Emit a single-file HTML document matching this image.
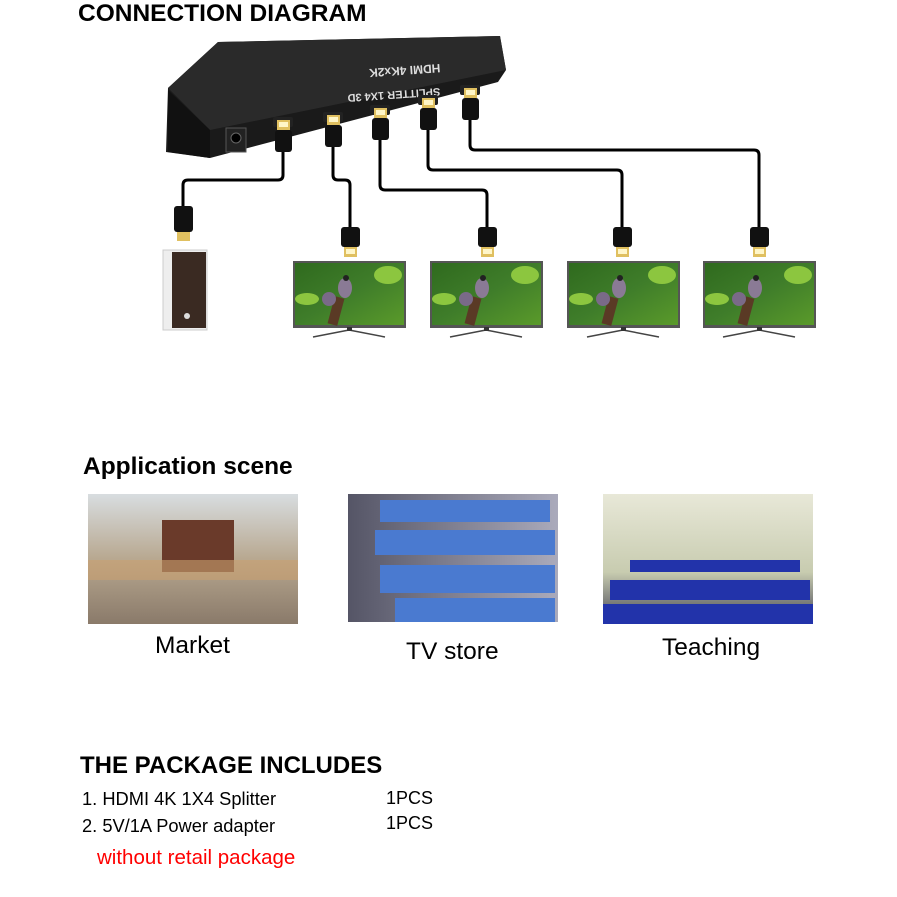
<!DOCTYPE html>
<html><head><meta charset="utf-8"><style>
body{margin:0;background:#fff;width:897px;height:897px;overflow:hidden;position:relative;font-family:"Liberation Sans",Arial,sans-serif}
.t{position:absolute;white-space:nowrap;color:#000}
</style></head><body>
<svg width="897" height="897" style="position:absolute;left:0;top:0">
<defs>
<linearGradient id="scr" x1="0" y1="0" x2="1" y2="1">
<stop offset="0" stop-color="#2f6a1e"/><stop offset="0.5" stop-color="#3f7d2a"/><stop offset="1" stop-color="#5a9a2a"/></linearGradient>
<g id="tv">
<rect x="0" y="0" width="113" height="67" fill="#555"/>
<rect x="2" y="2" width="109" height="62" fill="url(#scr)"/>
<ellipse cx="95" cy="14" rx="14" ry="9" fill="#8cc63f"/>
<ellipse cx="14" cy="38" rx="12" ry="6" fill="#8cc63f"/>
<rect x="38" y="36" width="10" height="28" fill="#5a3a25" transform="rotate(15 43 50)"/>
<ellipse cx="52" cy="27" rx="7" ry="10" fill="#8a7a95"/>
<ellipse cx="36" cy="38" rx="7" ry="7" fill="#7a6a88"/>
<circle cx="53" cy="17" r="3" fill="#222"/>
<line x1="20" y1="76" x2="56" y2="69" stroke="#444" stroke-width="1.5"/>
<line x1="92" y1="76" x2="56" y2="69" stroke="#444" stroke-width="1.5"/>
<rect x="54" y="66" width="5" height="4" fill="#333"/>
</g>
<g id="plug">
<rect x="-9" y="0" width="19" height="20" rx="3" fill="#111"/>
<rect x="-6" y="20" width="13" height="10" fill="#e0c060"/>
<rect x="-4" y="22" width="9" height="5" fill="#fff6c8"/>
</g>
<g id="uplug">
<rect x="-10" y="-3" width="20" height="10" rx="2" fill="#222"/>
<rect x="-6" y="0" width="13" height="10" fill="#e0c060"/>
<rect x="-4" y="2" width="9" height="5" fill="#fff6c8"/>
<rect x="-8" y="10" width="17" height="22" rx="3" fill="#111"/>
</g>
</defs>
<!-- splitter -->
<polygon points="168,88 218,42 500,36 506,70 498,82 210,158 166,152" fill="#1a1a1a"/>
<polygon points="168,88 218,42 500,36 506,70 210,130" fill="#2a2a2a"/>
<polygon points="168,90 210,130 210,158 168,152" fill="#111"/>
<rect x="226" y="128" width="20" height="24" fill="#222" stroke="#555"/>
<circle cx="236" cy="138" r="5" fill="#000" stroke="#666"/>
<text x="0" y="0" font-size="11" font-weight="bold" fill="#ddd" transform="translate(440,88) rotate(176)" font-family="Liberation Sans">SPLITTER 1X4 3D</text>
<text x="0" y="0" font-size="12" font-weight="bold" fill="#ddd" transform="translate(440,64) rotate(176)" font-family="Liberation Sans">HDMI 4Kx2K</text>
<!-- cables -->
<g fill="none" stroke="#000" stroke-width="3" stroke-linejoin="round">
<path d="M283 150 V175 Q283 180 278 180 H188 Q183 180 183 185 V210"/>
<path d="M333 145 V175 Q333 180 338 180 H345 Q350 180 350 185 V228"/>
<path d="M380 138 V185 Q380 190 385 190 H482 Q487 190 487 195 V228"/>
<path d="M428 128 V165 Q428 170 433 170 H617 Q622 170 622 175 V228"/>
<path d="M470 118 V145 Q470 150 475 150 H754 Q759 150 759 155 V228"/>
</g>
<use href="#uplug" x="283" y="120"/>
<use href="#uplug" x="333" y="115"/>
<use href="#uplug" x="380" y="108"/>
<use href="#uplug" x="428" y="98"/>
<use href="#uplug" x="470" y="88"/>
<rect x="174" y="206" width="19" height="26" rx="3" fill="#111"/>
<rect x="177" y="232" width="13" height="9" fill="#e0c060"/>
<use href="#plug" x="350" y="227"/>
<use href="#plug" x="487" y="227"/>
<use href="#plug" x="622" y="227"/>
<use href="#plug" x="759" y="227"/>
<!-- computer -->
<rect x="163" y="250" width="44" height="80" fill="#eee" stroke="#ccc"/>
<rect x="172" y="252" width="34" height="76" fill="#3a2a22"/>
<circle cx="187" cy="316" r="3" fill="#ddd"/>
<use href="#tv" x="293" y="261"/>
<use href="#tv" x="430" y="261"/>
<use href="#tv" x="567" y="261"/>
<use href="#tv" x="703" y="261"/>
<!-- photos -->
<defs>
<linearGradient id="m" x1="0" y1="0" x2="0" y2="1"><stop offset="0" stop-color="#d8dde0"/><stop offset="0.5" stop-color="#b8a890"/><stop offset="1" stop-color="#8a7a6a"/></linearGradient>
<linearGradient id="s" x1="0" y1="0" x2="1" y2="0"><stop offset="0" stop-color="#556"/><stop offset="1" stop-color="#aab"/></linearGradient>
<linearGradient id="c" x1="0" y1="0" x2="0" y2="1"><stop offset="0" stop-color="#e8e8d8"/><stop offset="0.6" stop-color="#c8ccb0"/><stop offset="1" stop-color="#445"/></linearGradient>
</defs>
<rect x="88" y="494" width="210" height="130" fill="url(#m)"/>
<rect x="162" y="520" width="72" height="52" fill="#6a3a2a"/>
<rect x="88" y="560" width="210" height="20" fill="#c9a070" opacity="0.6"/>
<rect x="348" y="494" width="210" height="128" fill="url(#s)"/>
<g fill="#4a7ad0">
<rect x="380" y="500" width="170" height="22"/><rect x="375" y="530" width="180" height="25"/><rect x="380" y="565" width="175" height="28"/><rect x="395" y="598" width="160" height="24"/></g>
<rect x="603" y="494" width="210" height="130" fill="url(#c)"/>
<g fill="#2233aa"><rect x="610" y="580" width="200" height="20"/><rect x="630" y="560" width="170" height="12"/><rect x="603" y="604" width="210" height="20"/></g>
</svg>
<div class="t" style="left:78px;top:0px;font-size:24.5px;font-weight:bold">CONNECTION DIAGRAM</div>
<div class="t" style="left:83px;top:453px;font-size:24.5px;font-weight:bold">Application scene</div>
<div class="t" style="left:155px;top:632px;font-size:24.5px">Market</div>
<div class="t" style="left:406px;top:638px;font-size:24.5px">TV store</div>
<div class="t" style="left:662px;top:634px;font-size:24.5px">Teaching</div>
<div class="t" style="left:80px;top:752px;font-size:24px;font-weight:bold">THE PACKAGE INCLUDES</div>
<div class="t" style="left:82px;top:788px;font-size:18.3px">1. HDMI 4K 1X4 Splitter</div>
<div class="t" style="left:386px;top:788px;font-size:18px">1PCS</div>
<div class="t" style="left:82px;top:815px;font-size:18.3px">2. 5V/1A Power adapter</div>
<div class="t" style="left:386px;top:813px;font-size:18px">1PCS</div>
<div class="t" style="left:97px;top:846px;font-size:20.5px;color:#f00">without retail package</div>
</body></html>
